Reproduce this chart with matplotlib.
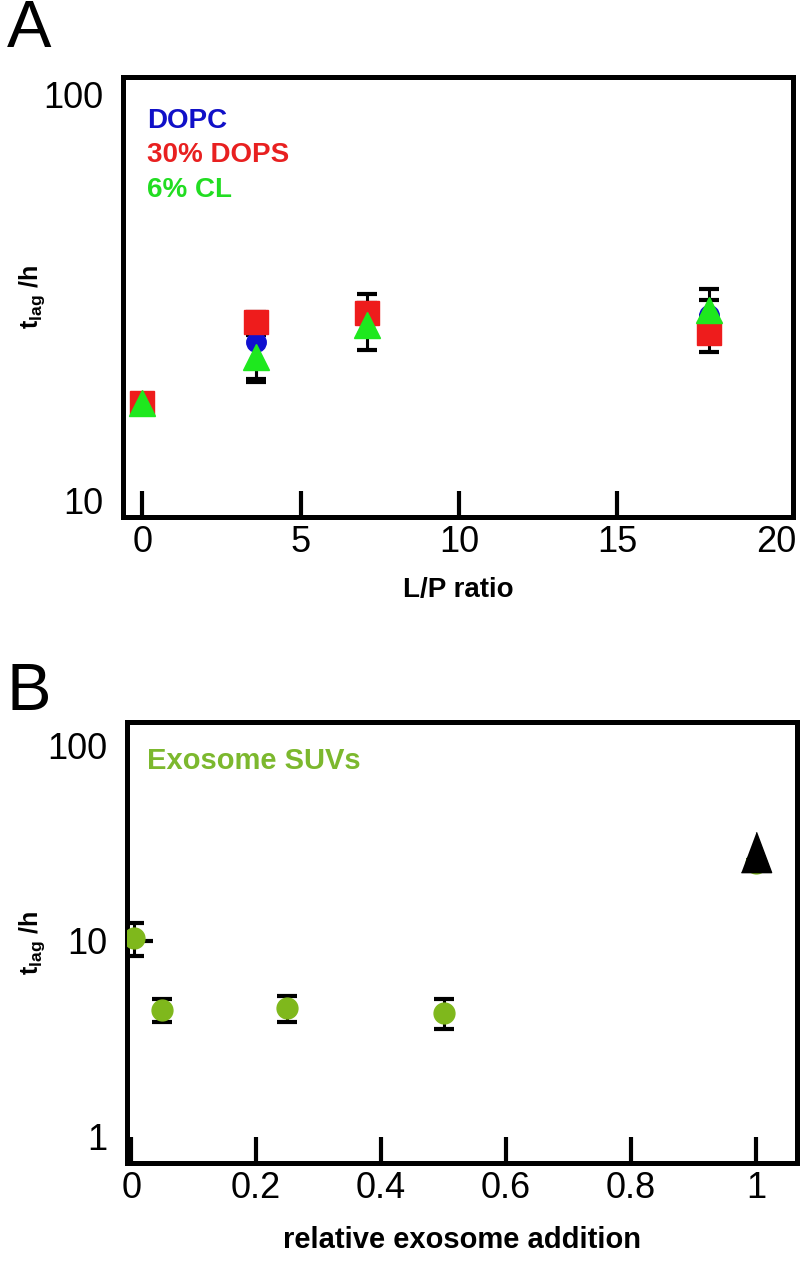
import matplotlib
matplotlib.use("Agg")
import matplotlib.pyplot as plt
from matplotlib.ticker import FixedLocator, NullFormatter

plt.rcParams['font.family'] = ['Liberation Sans', 'DejaVu Sans']
plt.rcParams['mathtext.fontset'] = 'custom'
plt.rcParams['mathtext.rm'] = 'Liberation Sans:bold'
plt.rcParams['mathtext.it'] = 'Liberation Sans:bold'
plt.rcParams['mathtext.bf'] = 'Liberation Sans:bold'

# panel A: lag time vs L/P ratio
lp_ratio = [0, 3.6, 7.1, 17.9]
dopc = [17.4, 24.5, 28.0, 28.6]
dopc_err = [0.5, 4.6, 2.5, 2.6]
dops = [17.4, 27.5, 29.0, 25.8]
dops_err = [0.5, 1.0, 3.3, 2.6]
cl = [17.4, 22.5, 27.0, 29.4]
cl_err = [0.5, 3.0, 3.6, 3.8]

# panel B: lag time vs relative exosome addition
exo_x = [0.005, 0.05, 0.25, 0.5, 1.0]
exo_y = [10.4, 4.45, 4.55, 4.3, 25.0]
exo_err = [2.0, 0.6, 0.7, 0.75, 1.0]
ref_x = [1.0]
ref_y = [28.5]

green = '#7fb81c'
tall_tri = [(-0.75, -1), (0.75, -1), (0, 1)]
ylab = r'$\mathregular{t_{lag}}$ /h'

fig = plt.figure(figsize=(8, 12.61), dpi=100)

def style_axes(ax):
    for s in ax.spines.values():
        s.set_linewidth(3.6)
    ax.tick_params(axis='x', direction='in', length=19, width=3, labelsize=26, pad=6)
    ax.tick_params(axis='y', which='major', length=0, labelsize=26, pad=14)

# ---- panel A
ax1 = fig.add_axes([0.154, 0.590, 0.8375, 0.349])
ax1.set_yscale('log')
ax1.set_xlim(-0.6, 20.55)
ax1.set_ylim(9.08, 110.7)
eb = dict(fmt='none', ecolor='black', elinewidth=2.2, capsize=7, capthick=3, zorder=2)
ax1.errorbar(lp_ratio, dopc, yerr=dopc_err, **eb)
ax1.errorbar(lp_ratio, dops, yerr=dops_err, **eb)
ax1.errorbar(lp_ratio, cl, yerr=cl_err, **eb)
ax1.plot(lp_ratio, dopc, 'o', color='#1010d0', ms=14, ls='none', zorder=3)
ax1.plot(lp_ratio, dops, 's', color='#ee1c1c', ms=17, ls='none', zorder=4)
ax1.plot(lp_ratio, cl, '^', color='#1ee81e', ms=19, ls='none', zorder=5)
ax1.set_xticks([0, 5, 10, 15, 20])
ax1.set_yticks([10, 100])
ax1.set_yticklabels(['10', '100'])
ax1.yaxis.set_minor_locator(FixedLocator([]))
ax1.yaxis.set_minor_formatter(NullFormatter())
style_axes(ax1)
ax1.xaxis.get_major_ticks()[-1].tick1line.set_visible(False)
ax1.set_xlabel('L/P ratio', fontsize=20, fontweight='bold', labelpad=12)
ax1.set_ylabel(ylab, fontsize=18, fontweight='bold')
ax1.yaxis.set_label_coords(-0.113, 0.5)
ax1.text(0.035, 0.885, 'DOPC', color='#1010c8', fontsize=20, fontweight='bold', transform=ax1.transAxes)
ax1.text(0.035, 0.806, '30% DOPS', color='#e82020', fontsize=20, fontweight='bold', transform=ax1.transAxes)
ax1.text(0.035, 0.727, '6% CL', color='#22dd22', fontsize=20, fontweight='bold', transform=ax1.transAxes)
fig.text(0.008, 0.963, 'A', fontsize=48)

# ---- panel B
ax2 = fig.add_axes([0.159, 0.0777, 0.8375, 0.3497])
ax2.set_yscale('log')
ax2.set_xlim(-0.0064, 1.066)
ax2.set_ylim(0.736, 131)
ax2.errorbar(exo_x, exo_y, yerr=exo_err, fmt='none', ecolor='black', elinewidth=2.2,
             capsize=7, capthick=3, zorder=2)
ax2.plot(exo_x, exo_y, 'o', color=green, ms=15, ls='none', zorder=3)
ax2.plot(ref_x, ref_y, marker=tall_tri, color='black', ms=29, ls='none', zorder=4)
ax2.set_xticks([0, 0.2, 0.4, 0.6, 0.8, 1])
ax2.set_xticklabels(['0', '0.2', '0.4', '0.6', '0.8', '1'])
ax2.set_yticks([1, 10, 100])
ax2.set_yticklabels(['1', '10', '100'])
ax2.yaxis.remove_overlapping_locs = False
ax2.yaxis.set_minor_locator(FixedLocator([10]))
ax2.yaxis.set_minor_formatter(NullFormatter())
style_axes(ax2)
ax2.tick_params(axis='y', which='minor', direction='in', length=19, width=3)
ax2.set_xlabel('relative exosome addition', fontsize=21, fontweight='bold', labelpad=14)
ax2.set_ylabel(ylab, fontsize=18, fontweight='bold')
ax2.yaxis.set_label_coords(-0.119, 0.5)
ax2.text(0.03, 0.893, 'Exosome SUVs', color='#7cb82e', fontsize=21, fontweight='bold', transform=ax2.transAxes)
fig.text(0.008, 0.437, 'B', fontsize=48)

fig.savefig('out.png', dpi=100)
